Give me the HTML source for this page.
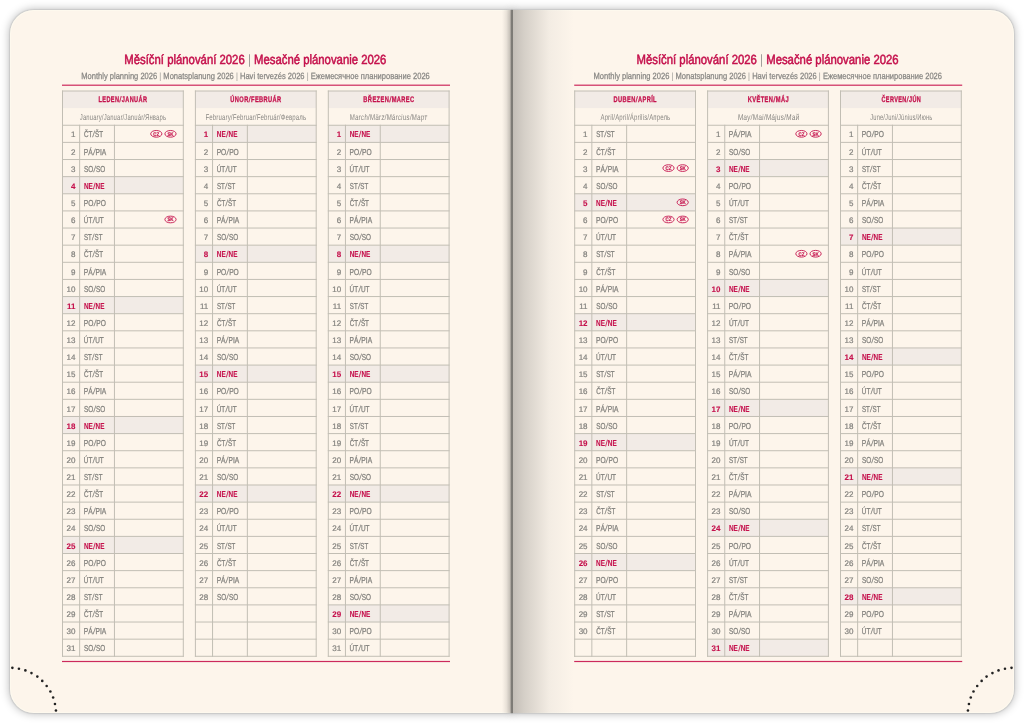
<!DOCTYPE html>
<html><head><meta charset="utf-8"><title>Měsíční plánování 2026</title>
<style>
html,body{margin:0;padding:0;}
body{width:1024px;height:723px;overflow:hidden;background:#ffffff;position:relative;font-family:"Liberation Sans",sans-serif;}
.pg{position:absolute;top:9.5px;height:703.5px;background:#fdf5eb;box-shadow:inset 0 0 1px 1px rgba(255,253,242,0.6),0 0 1px 0.5px rgba(0,0,0,0.08),0 0 8px 1px rgba(0,0,0,0.26);}
.pl{left:10px;width:502px;border-radius:24px 0 0 24px;}
.pr{left:512px;width:502px;border-radius:0 24px 24px 0;}
.gl{position:absolute;top:9.5px;height:703.5px;left:502px;width:9px;background:linear-gradient(to right,rgba(200,195,188,0),rgba(195,190,183,0.25) 50%,rgba(175,170,163,0.5) 85%,rgba(140,136,130,0.8));}
.gr{position:absolute;top:9.5px;height:703.5px;left:512px;width:62px;background:linear-gradient(to right,rgba(190,185,178,0.95),rgba(200,195,188,0.75) 20%,rgba(205,200,193,0.6) 35%,rgba(225,220,213,0.35) 60%,rgba(253,245,236,0));}
.gc{position:absolute;top:9.5px;height:703.5px;left:510.9px;width:1.9px;background:linear-gradient(to right,rgba(100,98,94,0.55),rgba(100,98,94,0.95) 50%,rgba(100,98,94,0.5));}
.ov{position:absolute;left:0;top:0;filter:blur(0.3px);}
text{font-family:"Liberation Sans",sans-serif;text-rendering:geometricPrecision;}
.tt{font-size:13.3px;fill:#c5124d;stroke:#c5124d;stroke-width:0.55px;}
.st{font-size:9px;fill:#878683;stroke:#878683;stroke-width:0.25px;}
.mh{font-size:8.0px;font-weight:bold;fill:#c5124d;stroke:#c5124d;stroke-width:0.3px;}
.ms{font-size:8.3px;fill:#888682;}
.dn{font-size:8px;fill:#84837f;stroke:#84837f;stroke-width:0.22px;text-anchor:end;}
.da{font-size:8.6px;fill:#84837f;stroke:#84837f;stroke-width:0.28px;}
.s{fill:#c5124d;stroke:#c5124d;stroke-width:0.1px;font-weight:bold;}
.bar{fill:#9a9894;stroke:none;}
.bd{font-size:5.2px;font-weight:bold;fill:#c5124d;stroke:#c5124d;stroke-width:0.2px;text-anchor:middle;}
</style></head>
<body>
<div class="pg pl"></div>
<div class="pg pr"></div>
<div class="gl"></div>
<div class="gr"></div>
<div class="gc"></div>
<svg class="ov" width="1024" height="723" viewBox="0 0 1024 723">
<text class="tt" transform="matrix(0.853 0 0 1 124.292 64)">Měsíční plánování 2026 <tspan class="bar">|</tspan> Mesačné plánovanie 2026</text>
<text class="st" transform="matrix(0.838 0 0 1 81.297 79.4)">Monthly planning 2026 <tspan class="bar">|</tspan> Monatsplanung 2026 <tspan class="bar">|</tspan> Havi tervezés 2026 <tspan class="bar">|</tspan> Ежемесячное планирование 2026</text>
<rect x="62" y="84.6" width="388" height="1.2" fill="#cc2a5c"/>
<rect x="62" y="660.9" width="388" height="1.2" fill="#cc2a5c"/>
<rect x="62.5" y="91" width="120.8" height="17.13" fill="#f2ebe6"/>
<rect x="62.5" y="176.65" width="120.8" height="17.13" fill="#f2ebe6"/>
<rect x="62.5" y="296.56" width="120.8" height="17.13" fill="#f2ebe6"/>
<rect x="62.5" y="416.47" width="120.8" height="17.13" fill="#f2ebe6"/>
<rect x="62.5" y="536.38" width="120.8" height="17.13" fill="#f2ebe6"/>
<path d="M62.5 91H183.3M62.5 125.26H183.3M62.5 142.39H183.3M62.5 159.52H183.3M62.5 176.65H183.3M62.5 193.78H183.3M62.5 210.91H183.3M62.5 228.04H183.3M62.5 245.17H183.3M62.5 262.3H183.3M62.5 279.43H183.3M62.5 296.56H183.3M62.5 313.69H183.3M62.5 330.82H183.3M62.5 347.95H183.3M62.5 365.08H183.3M62.5 382.21H183.3M62.5 399.34H183.3M62.5 416.47H183.3M62.5 433.6H183.3M62.5 450.73H183.3M62.5 467.86H183.3M62.5 484.99H183.3M62.5 502.12H183.3M62.5 519.25H183.3M62.5 536.38H183.3M62.5 553.51H183.3M62.5 570.64H183.3M62.5 587.77H183.3M62.5 604.9H183.3M62.5 622.03H183.3M62.5 639.16H183.3M62.5 656.29H183.3M62.5 91V656.29M183.3 91V656.29M79.65 125.26V656.29M114.45 125.26V656.29" stroke="#c2beb4" stroke-width="1" stroke-linecap="square" fill="none"/>
<text class="mh" letter-spacing="0.55" transform="matrix(0.698 0 0 1 98.537 102.015)">LEDEN<tspan dx="0.3" font-style="italic">/</tspan><tspan dx="0.3">JANUÁR</tspan></text>
<text class="ms" letter-spacing="0.3" transform="matrix(0.696 0 -0.03 1 79.813 119.545)">January/Januar/Január/Январь</text>
<text x="75.35" y="137.475" class="dn">1</text>
<text class="da" transform="matrix(0.73 0 0 1 83.986 137.475)">ČT<tspan dx="0.7" font-style="italic">/</tspan><tspan dx="0.7">ŠT</tspan></text>
<ellipse cx="170.5" cy="133.825" rx="5.6" ry="3.35" fill="none" stroke="#c5124d" stroke-width="0.9"/>
<text class="bd" transform="matrix(0.85 0 0 1 170.5 135.625)">SK</text>
<ellipse cx="156.3" cy="133.825" rx="5.6" ry="3.35" fill="none" stroke="#c5124d" stroke-width="0.9"/>
<text class="bd" transform="matrix(0.85 0 0 1 156.3 135.625)">CZ</text>
<text x="75.35" y="154.605" class="dn">2</text>
<text class="da" transform="matrix(0.773 0 0 1 83.768 154.605)">PÁ<tspan dx="0.7" font-style="italic">/</tspan><tspan dx="0.7">PIA</tspan></text>
<text x="75.35" y="171.735" class="dn">3</text>
<text class="da" transform="matrix(0.74 0 0 1 84.014 171.735)">SO<tspan dx="0.7" font-style="italic">/</tspan><tspan dx="0.7">SO</tspan></text>
<text x="75.35" y="188.865" class="dn s">4</text>
<text class="da s" transform="matrix(0.746 0 0 1 83.883 188.865)">NE<tspan dx="0.7" font-style="italic">/</tspan><tspan dx="0.7">NE</tspan></text>
<text x="75.35" y="205.995" class="dn">5</text>
<text class="da" transform="matrix(0.773 0 0 1 83.768 205.995)">PO<tspan dx="0.7" font-style="italic">/</tspan><tspan dx="0.7">PO</tspan></text>
<text x="75.35" y="223.125" class="dn">6</text>
<text class="da" transform="matrix(0.745 0 0 1 83.819 223.125)">ÚT<tspan dx="0.7" font-style="italic">/</tspan><tspan dx="0.7">UT</tspan></text>
<ellipse cx="170.5" cy="219.475" rx="5.6" ry="3.35" fill="none" stroke="#c5124d" stroke-width="0.9"/>
<text class="bd" transform="matrix(0.85 0 0 1 170.5 221.275)">SK</text>
<text x="75.35" y="240.255" class="dn">7</text>
<text class="da" transform="matrix(0.714 0 0 1 84.024 240.255)">ST<tspan dx="0.7" font-style="italic">/</tspan><tspan dx="0.7">ST</tspan></text>
<text x="75.35" y="257.385" class="dn">8</text>
<text class="da" transform="matrix(0.73 0 0 1 83.986 257.385)">ČT<tspan dx="0.7" font-style="italic">/</tspan><tspan dx="0.7">ŠT</tspan></text>
<text x="75.35" y="274.515" class="dn">9</text>
<text class="da" transform="matrix(0.773 0 0 1 83.768 274.515)">PÁ<tspan dx="0.7" font-style="italic">/</tspan><tspan dx="0.7">PIA</tspan></text>
<text x="75.35" y="291.645" class="dn">10</text>
<text class="da" transform="matrix(0.74 0 0 1 84.014 291.645)">SO<tspan dx="0.7" font-style="italic">/</tspan><tspan dx="0.7">SO</tspan></text>
<text x="75.35" y="308.775" class="dn s">11</text>
<text class="da s" transform="matrix(0.746 0 0 1 83.883 308.775)">NE<tspan dx="0.7" font-style="italic">/</tspan><tspan dx="0.7">NE</tspan></text>
<text x="75.35" y="325.905" class="dn">12</text>
<text class="da" transform="matrix(0.773 0 0 1 83.768 325.905)">PO<tspan dx="0.7" font-style="italic">/</tspan><tspan dx="0.7">PO</tspan></text>
<text x="75.35" y="343.035" class="dn">13</text>
<text class="da" transform="matrix(0.745 0 0 1 83.819 343.035)">ÚT<tspan dx="0.7" font-style="italic">/</tspan><tspan dx="0.7">UT</tspan></text>
<text x="75.35" y="360.165" class="dn">14</text>
<text class="da" transform="matrix(0.714 0 0 1 84.024 360.165)">ST<tspan dx="0.7" font-style="italic">/</tspan><tspan dx="0.7">ST</tspan></text>
<text x="75.35" y="377.295" class="dn">15</text>
<text class="da" transform="matrix(0.73 0 0 1 83.986 377.295)">ČT<tspan dx="0.7" font-style="italic">/</tspan><tspan dx="0.7">ŠT</tspan></text>
<text x="75.35" y="394.425" class="dn">16</text>
<text class="da" transform="matrix(0.773 0 0 1 83.768 394.425)">PÁ<tspan dx="0.7" font-style="italic">/</tspan><tspan dx="0.7">PIA</tspan></text>
<text x="75.35" y="411.555" class="dn">17</text>
<text class="da" transform="matrix(0.74 0 0 1 84.014 411.555)">SO<tspan dx="0.7" font-style="italic">/</tspan><tspan dx="0.7">SO</tspan></text>
<text x="75.35" y="428.685" class="dn s">18</text>
<text class="da s" transform="matrix(0.746 0 0 1 83.883 428.685)">NE<tspan dx="0.7" font-style="italic">/</tspan><tspan dx="0.7">NE</tspan></text>
<text x="75.35" y="445.815" class="dn">19</text>
<text class="da" transform="matrix(0.773 0 0 1 83.768 445.815)">PO<tspan dx="0.7" font-style="italic">/</tspan><tspan dx="0.7">PO</tspan></text>
<text x="75.35" y="462.945" class="dn">20</text>
<text class="da" transform="matrix(0.745 0 0 1 83.819 462.945)">ÚT<tspan dx="0.7" font-style="italic">/</tspan><tspan dx="0.7">UT</tspan></text>
<text x="75.35" y="480.075" class="dn">21</text>
<text class="da" transform="matrix(0.714 0 0 1 84.024 480.075)">ST<tspan dx="0.7" font-style="italic">/</tspan><tspan dx="0.7">ST</tspan></text>
<text x="75.35" y="497.205" class="dn">22</text>
<text class="da" transform="matrix(0.73 0 0 1 83.986 497.205)">ČT<tspan dx="0.7" font-style="italic">/</tspan><tspan dx="0.7">ŠT</tspan></text>
<text x="75.35" y="514.335" class="dn">23</text>
<text class="da" transform="matrix(0.773 0 0 1 83.768 514.335)">PÁ<tspan dx="0.7" font-style="italic">/</tspan><tspan dx="0.7">PIA</tspan></text>
<text x="75.35" y="531.465" class="dn">24</text>
<text class="da" transform="matrix(0.74 0 0 1 84.014 531.465)">SO<tspan dx="0.7" font-style="italic">/</tspan><tspan dx="0.7">SO</tspan></text>
<text x="75.35" y="548.595" class="dn s">25</text>
<text class="da s" transform="matrix(0.746 0 0 1 83.883 548.595)">NE<tspan dx="0.7" font-style="italic">/</tspan><tspan dx="0.7">NE</tspan></text>
<text x="75.35" y="565.725" class="dn">26</text>
<text class="da" transform="matrix(0.773 0 0 1 83.768 565.725)">PO<tspan dx="0.7" font-style="italic">/</tspan><tspan dx="0.7">PO</tspan></text>
<text x="75.35" y="582.855" class="dn">27</text>
<text class="da" transform="matrix(0.745 0 0 1 83.819 582.855)">ÚT<tspan dx="0.7" font-style="italic">/</tspan><tspan dx="0.7">UT</tspan></text>
<text x="75.35" y="599.985" class="dn">28</text>
<text class="da" transform="matrix(0.714 0 0 1 84.024 599.985)">ST<tspan dx="0.7" font-style="italic">/</tspan><tspan dx="0.7">ST</tspan></text>
<text x="75.35" y="617.115" class="dn">29</text>
<text class="da" transform="matrix(0.73 0 0 1 83.986 617.115)">ČT<tspan dx="0.7" font-style="italic">/</tspan><tspan dx="0.7">ŠT</tspan></text>
<text x="75.35" y="634.245" class="dn">30</text>
<text class="da" transform="matrix(0.773 0 0 1 83.768 634.245)">PÁ<tspan dx="0.7" font-style="italic">/</tspan><tspan dx="0.7">PIA</tspan></text>
<text x="75.35" y="651.375" class="dn">31</text>
<text class="da" transform="matrix(0.74 0 0 1 84.014 651.375)">SO<tspan dx="0.7" font-style="italic">/</tspan><tspan dx="0.7">SO</tspan></text>
<rect x="195.4" y="91" width="120.8" height="17.13" fill="#f2ebe6"/>
<rect x="195.4" y="125.26" width="120.8" height="17.13" fill="#f2ebe6"/>
<rect x="195.4" y="245.17" width="120.8" height="17.13" fill="#f2ebe6"/>
<rect x="195.4" y="365.08" width="120.8" height="17.13" fill="#f2ebe6"/>
<rect x="195.4" y="484.99" width="120.8" height="17.13" fill="#f2ebe6"/>
<path d="M195.4 91H316.2M195.4 125.26H316.2M195.4 142.39H316.2M195.4 159.52H316.2M195.4 176.65H316.2M195.4 193.78H316.2M195.4 210.91H316.2M195.4 228.04H316.2M195.4 245.17H316.2M195.4 262.3H316.2M195.4 279.43H316.2M195.4 296.56H316.2M195.4 313.69H316.2M195.4 330.82H316.2M195.4 347.95H316.2M195.4 365.08H316.2M195.4 382.21H316.2M195.4 399.34H316.2M195.4 416.47H316.2M195.4 433.6H316.2M195.4 450.73H316.2M195.4 467.86H316.2M195.4 484.99H316.2M195.4 502.12H316.2M195.4 519.25H316.2M195.4 536.38H316.2M195.4 553.51H316.2M195.4 570.64H316.2M195.4 587.77H316.2M195.4 604.9H316.2M195.4 622.03H316.2M195.4 639.16H316.2M195.4 656.29H316.2M195.4 91V656.29M316.2 91V656.29M212.55 125.26V656.29M247.35 125.26V656.29" stroke="#c2beb4" stroke-width="1" stroke-linecap="square" fill="none"/>
<text class="mh" letter-spacing="0.55" transform="matrix(0.709 0 0 1 230.36 102.015)">ÚNOR<tspan dx="0.3" font-style="italic">/</tspan><tspan dx="0.3">FEBRUÁR</tspan></text>
<text class="ms" letter-spacing="0.3" transform="matrix(0.711 0 -0.03 1 205.528 119.545)">February/Februar/Február/Февраль</text>
<text x="208.25" y="137.475" class="dn s">1</text>
<text class="da s" transform="matrix(0.746 0 0 1 216.783 137.475)">NE<tspan dx="0.7" font-style="italic">/</tspan><tspan dx="0.7">NE</tspan></text>
<text x="208.25" y="154.605" class="dn">2</text>
<text class="da" transform="matrix(0.773 0 0 1 216.668 154.605)">PO<tspan dx="0.7" font-style="italic">/</tspan><tspan dx="0.7">PO</tspan></text>
<text x="208.25" y="171.735" class="dn">3</text>
<text class="da" transform="matrix(0.745 0 0 1 216.719 171.735)">ÚT<tspan dx="0.7" font-style="italic">/</tspan><tspan dx="0.7">UT</tspan></text>
<text x="208.25" y="188.865" class="dn">4</text>
<text class="da" transform="matrix(0.714 0 0 1 216.924 188.865)">ST<tspan dx="0.7" font-style="italic">/</tspan><tspan dx="0.7">ST</tspan></text>
<text x="208.25" y="205.995" class="dn">5</text>
<text class="da" transform="matrix(0.73 0 0 1 216.886 205.995)">ČT<tspan dx="0.7" font-style="italic">/</tspan><tspan dx="0.7">ŠT</tspan></text>
<text x="208.25" y="223.125" class="dn">6</text>
<text class="da" transform="matrix(0.773 0 0 1 216.668 223.125)">PÁ<tspan dx="0.7" font-style="italic">/</tspan><tspan dx="0.7">PIA</tspan></text>
<text x="208.25" y="240.255" class="dn">7</text>
<text class="da" transform="matrix(0.74 0 0 1 216.914 240.255)">SO<tspan dx="0.7" font-style="italic">/</tspan><tspan dx="0.7">SO</tspan></text>
<text x="208.25" y="257.385" class="dn s">8</text>
<text class="da s" transform="matrix(0.746 0 0 1 216.783 257.385)">NE<tspan dx="0.7" font-style="italic">/</tspan><tspan dx="0.7">NE</tspan></text>
<text x="208.25" y="274.515" class="dn">9</text>
<text class="da" transform="matrix(0.773 0 0 1 216.668 274.515)">PO<tspan dx="0.7" font-style="italic">/</tspan><tspan dx="0.7">PO</tspan></text>
<text x="208.25" y="291.645" class="dn">10</text>
<text class="da" transform="matrix(0.745 0 0 1 216.719 291.645)">ÚT<tspan dx="0.7" font-style="italic">/</tspan><tspan dx="0.7">UT</tspan></text>
<text x="208.25" y="308.775" class="dn">11</text>
<text class="da" transform="matrix(0.714 0 0 1 216.924 308.775)">ST<tspan dx="0.7" font-style="italic">/</tspan><tspan dx="0.7">ST</tspan></text>
<text x="208.25" y="325.905" class="dn">12</text>
<text class="da" transform="matrix(0.73 0 0 1 216.886 325.905)">ČT<tspan dx="0.7" font-style="italic">/</tspan><tspan dx="0.7">ŠT</tspan></text>
<text x="208.25" y="343.035" class="dn">13</text>
<text class="da" transform="matrix(0.773 0 0 1 216.668 343.035)">PÁ<tspan dx="0.7" font-style="italic">/</tspan><tspan dx="0.7">PIA</tspan></text>
<text x="208.25" y="360.165" class="dn">14</text>
<text class="da" transform="matrix(0.74 0 0 1 216.914 360.165)">SO<tspan dx="0.7" font-style="italic">/</tspan><tspan dx="0.7">SO</tspan></text>
<text x="208.25" y="377.295" class="dn s">15</text>
<text class="da s" transform="matrix(0.746 0 0 1 216.783 377.295)">NE<tspan dx="0.7" font-style="italic">/</tspan><tspan dx="0.7">NE</tspan></text>
<text x="208.25" y="394.425" class="dn">16</text>
<text class="da" transform="matrix(0.773 0 0 1 216.668 394.425)">PO<tspan dx="0.7" font-style="italic">/</tspan><tspan dx="0.7">PO</tspan></text>
<text x="208.25" y="411.555" class="dn">17</text>
<text class="da" transform="matrix(0.745 0 0 1 216.719 411.555)">ÚT<tspan dx="0.7" font-style="italic">/</tspan><tspan dx="0.7">UT</tspan></text>
<text x="208.25" y="428.685" class="dn">18</text>
<text class="da" transform="matrix(0.714 0 0 1 216.924 428.685)">ST<tspan dx="0.7" font-style="italic">/</tspan><tspan dx="0.7">ST</tspan></text>
<text x="208.25" y="445.815" class="dn">19</text>
<text class="da" transform="matrix(0.73 0 0 1 216.886 445.815)">ČT<tspan dx="0.7" font-style="italic">/</tspan><tspan dx="0.7">ŠT</tspan></text>
<text x="208.25" y="462.945" class="dn">20</text>
<text class="da" transform="matrix(0.773 0 0 1 216.668 462.945)">PÁ<tspan dx="0.7" font-style="italic">/</tspan><tspan dx="0.7">PIA</tspan></text>
<text x="208.25" y="480.075" class="dn">21</text>
<text class="da" transform="matrix(0.74 0 0 1 216.914 480.075)">SO<tspan dx="0.7" font-style="italic">/</tspan><tspan dx="0.7">SO</tspan></text>
<text x="208.25" y="497.205" class="dn s">22</text>
<text class="da s" transform="matrix(0.746 0 0 1 216.783 497.205)">NE<tspan dx="0.7" font-style="italic">/</tspan><tspan dx="0.7">NE</tspan></text>
<text x="208.25" y="514.335" class="dn">23</text>
<text class="da" transform="matrix(0.773 0 0 1 216.668 514.335)">PO<tspan dx="0.7" font-style="italic">/</tspan><tspan dx="0.7">PO</tspan></text>
<text x="208.25" y="531.465" class="dn">24</text>
<text class="da" transform="matrix(0.745 0 0 1 216.719 531.465)">ÚT<tspan dx="0.7" font-style="italic">/</tspan><tspan dx="0.7">UT</tspan></text>
<text x="208.25" y="548.595" class="dn">25</text>
<text class="da" transform="matrix(0.714 0 0 1 216.924 548.595)">ST<tspan dx="0.7" font-style="italic">/</tspan><tspan dx="0.7">ST</tspan></text>
<text x="208.25" y="565.725" class="dn">26</text>
<text class="da" transform="matrix(0.73 0 0 1 216.886 565.725)">ČT<tspan dx="0.7" font-style="italic">/</tspan><tspan dx="0.7">ŠT</tspan></text>
<text x="208.25" y="582.855" class="dn">27</text>
<text class="da" transform="matrix(0.773 0 0 1 216.668 582.855)">PÁ<tspan dx="0.7" font-style="italic">/</tspan><tspan dx="0.7">PIA</tspan></text>
<text x="208.25" y="599.985" class="dn">28</text>
<text class="da" transform="matrix(0.74 0 0 1 216.914 599.985)">SO<tspan dx="0.7" font-style="italic">/</tspan><tspan dx="0.7">SO</tspan></text>
<rect x="328.3" y="91" width="120.8" height="17.13" fill="#f2ebe6"/>
<rect x="328.3" y="125.26" width="120.8" height="17.13" fill="#f2ebe6"/>
<rect x="328.3" y="245.17" width="120.8" height="17.13" fill="#f2ebe6"/>
<rect x="328.3" y="365.08" width="120.8" height="17.13" fill="#f2ebe6"/>
<rect x="328.3" y="484.99" width="120.8" height="17.13" fill="#f2ebe6"/>
<rect x="328.3" y="604.9" width="120.8" height="17.13" fill="#f2ebe6"/>
<path d="M328.3 91H449.1M328.3 125.26H449.1M328.3 142.39H449.1M328.3 159.52H449.1M328.3 176.65H449.1M328.3 193.78H449.1M328.3 210.91H449.1M328.3 228.04H449.1M328.3 245.17H449.1M328.3 262.3H449.1M328.3 279.43H449.1M328.3 296.56H449.1M328.3 313.69H449.1M328.3 330.82H449.1M328.3 347.95H449.1M328.3 365.08H449.1M328.3 382.21H449.1M328.3 399.34H449.1M328.3 416.47H449.1M328.3 433.6H449.1M328.3 450.73H449.1M328.3 467.86H449.1M328.3 484.99H449.1M328.3 502.12H449.1M328.3 519.25H449.1M328.3 536.38H449.1M328.3 553.51H449.1M328.3 570.64H449.1M328.3 587.77H449.1M328.3 604.9H449.1M328.3 622.03H449.1M328.3 639.16H449.1M328.3 656.29H449.1M328.3 91V656.29M449.1 91V656.29M345.45 125.26V656.29M380.25 125.26V656.29" stroke="#c2beb4" stroke-width="1" stroke-linecap="square" fill="none"/>
<text class="mh" letter-spacing="0.55" transform="matrix(0.715 0 0 1 363.328 102.015)">BŘEZEN<tspan dx="0.3" font-style="italic">/</tspan><tspan dx="0.3">MAREC</tspan></text>
<text class="ms" letter-spacing="0.3" transform="matrix(0.747 0 -0.06 1 349.504 119.545)">March/März/Március/Март</text>
<text x="341.15" y="137.475" class="dn s">1</text>
<text class="da s" transform="matrix(0.746 0 0 1 349.683 137.475)">NE<tspan dx="0.7" font-style="italic">/</tspan><tspan dx="0.7">NE</tspan></text>
<text x="341.15" y="154.605" class="dn">2</text>
<text class="da" transform="matrix(0.773 0 0 1 349.568 154.605)">PO<tspan dx="0.7" font-style="italic">/</tspan><tspan dx="0.7">PO</tspan></text>
<text x="341.15" y="171.735" class="dn">3</text>
<text class="da" transform="matrix(0.745 0 0 1 349.619 171.735)">ÚT<tspan dx="0.7" font-style="italic">/</tspan><tspan dx="0.7">UT</tspan></text>
<text x="341.15" y="188.865" class="dn">4</text>
<text class="da" transform="matrix(0.714 0 0 1 349.824 188.865)">ST<tspan dx="0.7" font-style="italic">/</tspan><tspan dx="0.7">ST</tspan></text>
<text x="341.15" y="205.995" class="dn">5</text>
<text class="da" transform="matrix(0.73 0 0 1 349.786 205.995)">ČT<tspan dx="0.7" font-style="italic">/</tspan><tspan dx="0.7">ŠT</tspan></text>
<text x="341.15" y="223.125" class="dn">6</text>
<text class="da" transform="matrix(0.773 0 0 1 349.568 223.125)">PÁ<tspan dx="0.7" font-style="italic">/</tspan><tspan dx="0.7">PIA</tspan></text>
<text x="341.15" y="240.255" class="dn">7</text>
<text class="da" transform="matrix(0.74 0 0 1 349.814 240.255)">SO<tspan dx="0.7" font-style="italic">/</tspan><tspan dx="0.7">SO</tspan></text>
<text x="341.15" y="257.385" class="dn s">8</text>
<text class="da s" transform="matrix(0.746 0 0 1 349.683 257.385)">NE<tspan dx="0.7" font-style="italic">/</tspan><tspan dx="0.7">NE</tspan></text>
<text x="341.15" y="274.515" class="dn">9</text>
<text class="da" transform="matrix(0.773 0 0 1 349.568 274.515)">PO<tspan dx="0.7" font-style="italic">/</tspan><tspan dx="0.7">PO</tspan></text>
<text x="341.15" y="291.645" class="dn">10</text>
<text class="da" transform="matrix(0.745 0 0 1 349.619 291.645)">ÚT<tspan dx="0.7" font-style="italic">/</tspan><tspan dx="0.7">UT</tspan></text>
<text x="341.15" y="308.775" class="dn">11</text>
<text class="da" transform="matrix(0.714 0 0 1 349.824 308.775)">ST<tspan dx="0.7" font-style="italic">/</tspan><tspan dx="0.7">ST</tspan></text>
<text x="341.15" y="325.905" class="dn">12</text>
<text class="da" transform="matrix(0.73 0 0 1 349.786 325.905)">ČT<tspan dx="0.7" font-style="italic">/</tspan><tspan dx="0.7">ŠT</tspan></text>
<text x="341.15" y="343.035" class="dn">13</text>
<text class="da" transform="matrix(0.773 0 0 1 349.568 343.035)">PÁ<tspan dx="0.7" font-style="italic">/</tspan><tspan dx="0.7">PIA</tspan></text>
<text x="341.15" y="360.165" class="dn">14</text>
<text class="da" transform="matrix(0.74 0 0 1 349.814 360.165)">SO<tspan dx="0.7" font-style="italic">/</tspan><tspan dx="0.7">SO</tspan></text>
<text x="341.15" y="377.295" class="dn s">15</text>
<text class="da s" transform="matrix(0.746 0 0 1 349.683 377.295)">NE<tspan dx="0.7" font-style="italic">/</tspan><tspan dx="0.7">NE</tspan></text>
<text x="341.15" y="394.425" class="dn">16</text>
<text class="da" transform="matrix(0.773 0 0 1 349.568 394.425)">PO<tspan dx="0.7" font-style="italic">/</tspan><tspan dx="0.7">PO</tspan></text>
<text x="341.15" y="411.555" class="dn">17</text>
<text class="da" transform="matrix(0.745 0 0 1 349.619 411.555)">ÚT<tspan dx="0.7" font-style="italic">/</tspan><tspan dx="0.7">UT</tspan></text>
<text x="341.15" y="428.685" class="dn">18</text>
<text class="da" transform="matrix(0.714 0 0 1 349.824 428.685)">ST<tspan dx="0.7" font-style="italic">/</tspan><tspan dx="0.7">ST</tspan></text>
<text x="341.15" y="445.815" class="dn">19</text>
<text class="da" transform="matrix(0.73 0 0 1 349.786 445.815)">ČT<tspan dx="0.7" font-style="italic">/</tspan><tspan dx="0.7">ŠT</tspan></text>
<text x="341.15" y="462.945" class="dn">20</text>
<text class="da" transform="matrix(0.773 0 0 1 349.568 462.945)">PÁ<tspan dx="0.7" font-style="italic">/</tspan><tspan dx="0.7">PIA</tspan></text>
<text x="341.15" y="480.075" class="dn">21</text>
<text class="da" transform="matrix(0.74 0 0 1 349.814 480.075)">SO<tspan dx="0.7" font-style="italic">/</tspan><tspan dx="0.7">SO</tspan></text>
<text x="341.15" y="497.205" class="dn s">22</text>
<text class="da s" transform="matrix(0.746 0 0 1 349.683 497.205)">NE<tspan dx="0.7" font-style="italic">/</tspan><tspan dx="0.7">NE</tspan></text>
<text x="341.15" y="514.335" class="dn">23</text>
<text class="da" transform="matrix(0.773 0 0 1 349.568 514.335)">PO<tspan dx="0.7" font-style="italic">/</tspan><tspan dx="0.7">PO</tspan></text>
<text x="341.15" y="531.465" class="dn">24</text>
<text class="da" transform="matrix(0.745 0 0 1 349.619 531.465)">ÚT<tspan dx="0.7" font-style="italic">/</tspan><tspan dx="0.7">UT</tspan></text>
<text x="341.15" y="548.595" class="dn">25</text>
<text class="da" transform="matrix(0.714 0 0 1 349.824 548.595)">ST<tspan dx="0.7" font-style="italic">/</tspan><tspan dx="0.7">ST</tspan></text>
<text x="341.15" y="565.725" class="dn">26</text>
<text class="da" transform="matrix(0.73 0 0 1 349.786 565.725)">ČT<tspan dx="0.7" font-style="italic">/</tspan><tspan dx="0.7">ŠT</tspan></text>
<text x="341.15" y="582.855" class="dn">27</text>
<text class="da" transform="matrix(0.773 0 0 1 349.568 582.855)">PÁ<tspan dx="0.7" font-style="italic">/</tspan><tspan dx="0.7">PIA</tspan></text>
<text x="341.15" y="599.985" class="dn">28</text>
<text class="da" transform="matrix(0.74 0 0 1 349.814 599.985)">SO<tspan dx="0.7" font-style="italic">/</tspan><tspan dx="0.7">SO</tspan></text>
<text x="341.15" y="617.115" class="dn s">29</text>
<text class="da s" transform="matrix(0.746 0 0 1 349.683 617.115)">NE<tspan dx="0.7" font-style="italic">/</tspan><tspan dx="0.7">NE</tspan></text>
<text x="341.15" y="634.245" class="dn">30</text>
<text class="da" transform="matrix(0.773 0 0 1 349.568 634.245)">PO<tspan dx="0.7" font-style="italic">/</tspan><tspan dx="0.7">PO</tspan></text>
<text x="341.15" y="651.375" class="dn">31</text>
<text class="da" transform="matrix(0.745 0 0 1 349.619 651.375)">ÚT<tspan dx="0.7" font-style="italic">/</tspan><tspan dx="0.7">UT</tspan></text>
<text class="tt" transform="matrix(0.853 0 0 1 636.492 64)">Měsíční plánování 2026 <tspan class="bar">|</tspan> Mesačné plánovanie 2026</text>
<text class="st" transform="matrix(0.838 0 0 1 593.497 79.4)">Monthly planning 2026 <tspan class="bar">|</tspan> Monatsplanung 2026 <tspan class="bar">|</tspan> Havi tervezés 2026 <tspan class="bar">|</tspan> Ежемесячное планирование 2026</text>
<rect x="574.2" y="84.6" width="388" height="1.2" fill="#cc2a5c"/>
<rect x="574.2" y="660.9" width="388" height="1.2" fill="#cc2a5c"/>
<rect x="574.7" y="91" width="120.8" height="17.13" fill="#f2ebe6"/>
<rect x="574.7" y="193.78" width="120.8" height="17.13" fill="#f2ebe6"/>
<rect x="574.7" y="313.69" width="120.8" height="17.13" fill="#f2ebe6"/>
<rect x="574.7" y="433.6" width="120.8" height="17.13" fill="#f2ebe6"/>
<rect x="574.7" y="553.51" width="120.8" height="17.13" fill="#f2ebe6"/>
<path d="M574.7 91H695.5M574.7 125.26H695.5M574.7 142.39H695.5M574.7 159.52H695.5M574.7 176.65H695.5M574.7 193.78H695.5M574.7 210.91H695.5M574.7 228.04H695.5M574.7 245.17H695.5M574.7 262.3H695.5M574.7 279.43H695.5M574.7 296.56H695.5M574.7 313.69H695.5M574.7 330.82H695.5M574.7 347.95H695.5M574.7 365.08H695.5M574.7 382.21H695.5M574.7 399.34H695.5M574.7 416.47H695.5M574.7 433.6H695.5M574.7 450.73H695.5M574.7 467.86H695.5M574.7 484.99H695.5M574.7 502.12H695.5M574.7 519.25H695.5M574.7 536.38H695.5M574.7 553.51H695.5M574.7 570.64H695.5M574.7 587.77H695.5M574.7 604.9H695.5M574.7 622.03H695.5M574.7 639.16H695.5M574.7 656.29H695.5M574.7 91V656.29M695.5 91V656.29M591.85 125.26V656.29M626.65 125.26V656.29" stroke="#c2beb4" stroke-width="1" stroke-linecap="square" fill="none"/>
<text class="mh" letter-spacing="0.55" transform="matrix(0.708 0 0 1 613.532 102.015)">DUBEN<tspan dx="0.3" font-style="italic">/</tspan><tspan dx="0.3">APRÍL</tspan></text>
<text class="ms" letter-spacing="0.3" transform="matrix(0.708 0 -0.03 1 600.5 119.545)">April/April/Április/Апрель</text>
<text x="587.55" y="137.475" class="dn">1</text>
<text class="da" transform="matrix(0.714 0 0 1 596.224 137.475)">ST<tspan dx="0.7" font-style="italic">/</tspan><tspan dx="0.7">ST</tspan></text>
<text x="587.55" y="154.605" class="dn">2</text>
<text class="da" transform="matrix(0.73 0 0 1 596.186 154.605)">ČT<tspan dx="0.7" font-style="italic">/</tspan><tspan dx="0.7">ŠT</tspan></text>
<text x="587.55" y="171.735" class="dn">3</text>
<text class="da" transform="matrix(0.773 0 0 1 595.968 171.735)">PÁ<tspan dx="0.7" font-style="italic">/</tspan><tspan dx="0.7">PIA</tspan></text>
<ellipse cx="682.7" cy="168.085" rx="5.6" ry="3.35" fill="none" stroke="#c5124d" stroke-width="0.9"/>
<text class="bd" transform="matrix(0.85 0 0 1 682.7 169.885)">SK</text>
<ellipse cx="668.5" cy="168.085" rx="5.6" ry="3.35" fill="none" stroke="#c5124d" stroke-width="0.9"/>
<text class="bd" transform="matrix(0.85 0 0 1 668.5 169.885)">CZ</text>
<text x="587.55" y="188.865" class="dn">4</text>
<text class="da" transform="matrix(0.74 0 0 1 596.214 188.865)">SO<tspan dx="0.7" font-style="italic">/</tspan><tspan dx="0.7">SO</tspan></text>
<text x="587.55" y="205.995" class="dn s">5</text>
<text class="da s" transform="matrix(0.746 0 0 1 596.083 205.995)">NE<tspan dx="0.7" font-style="italic">/</tspan><tspan dx="0.7">NE</tspan></text>
<ellipse cx="682.7" cy="202.345" rx="5.6" ry="3.35" fill="none" stroke="#c5124d" stroke-width="0.9"/>
<text class="bd" transform="matrix(0.85 0 0 1 682.7 204.145)">SK</text>
<text x="587.55" y="223.125" class="dn">6</text>
<text class="da" transform="matrix(0.773 0 0 1 595.968 223.125)">PO<tspan dx="0.7" font-style="italic">/</tspan><tspan dx="0.7">PO</tspan></text>
<ellipse cx="682.7" cy="219.475" rx="5.6" ry="3.35" fill="none" stroke="#c5124d" stroke-width="0.9"/>
<text class="bd" transform="matrix(0.85 0 0 1 682.7 221.275)">SK</text>
<ellipse cx="668.5" cy="219.475" rx="5.6" ry="3.35" fill="none" stroke="#c5124d" stroke-width="0.9"/>
<text class="bd" transform="matrix(0.85 0 0 1 668.5 221.275)">CZ</text>
<text x="587.55" y="240.255" class="dn">7</text>
<text class="da" transform="matrix(0.745 0 0 1 596.019 240.255)">ÚT<tspan dx="0.7" font-style="italic">/</tspan><tspan dx="0.7">UT</tspan></text>
<text x="587.55" y="257.385" class="dn">8</text>
<text class="da" transform="matrix(0.714 0 0 1 596.224 257.385)">ST<tspan dx="0.7" font-style="italic">/</tspan><tspan dx="0.7">ST</tspan></text>
<text x="587.55" y="274.515" class="dn">9</text>
<text class="da" transform="matrix(0.73 0 0 1 596.186 274.515)">ČT<tspan dx="0.7" font-style="italic">/</tspan><tspan dx="0.7">ŠT</tspan></text>
<text x="587.55" y="291.645" class="dn">10</text>
<text class="da" transform="matrix(0.773 0 0 1 595.968 291.645)">PÁ<tspan dx="0.7" font-style="italic">/</tspan><tspan dx="0.7">PIA</tspan></text>
<text x="587.55" y="308.775" class="dn">11</text>
<text class="da" transform="matrix(0.74 0 0 1 596.214 308.775)">SO<tspan dx="0.7" font-style="italic">/</tspan><tspan dx="0.7">SO</tspan></text>
<text x="587.55" y="325.905" class="dn s">12</text>
<text class="da s" transform="matrix(0.746 0 0 1 596.083 325.905)">NE<tspan dx="0.7" font-style="italic">/</tspan><tspan dx="0.7">NE</tspan></text>
<text x="587.55" y="343.035" class="dn">13</text>
<text class="da" transform="matrix(0.773 0 0 1 595.968 343.035)">PO<tspan dx="0.7" font-style="italic">/</tspan><tspan dx="0.7">PO</tspan></text>
<text x="587.55" y="360.165" class="dn">14</text>
<text class="da" transform="matrix(0.745 0 0 1 596.019 360.165)">ÚT<tspan dx="0.7" font-style="italic">/</tspan><tspan dx="0.7">UT</tspan></text>
<text x="587.55" y="377.295" class="dn">15</text>
<text class="da" transform="matrix(0.714 0 0 1 596.224 377.295)">ST<tspan dx="0.7" font-style="italic">/</tspan><tspan dx="0.7">ST</tspan></text>
<text x="587.55" y="394.425" class="dn">16</text>
<text class="da" transform="matrix(0.73 0 0 1 596.186 394.425)">ČT<tspan dx="0.7" font-style="italic">/</tspan><tspan dx="0.7">ŠT</tspan></text>
<text x="587.55" y="411.555" class="dn">17</text>
<text class="da" transform="matrix(0.773 0 0 1 595.968 411.555)">PÁ<tspan dx="0.7" font-style="italic">/</tspan><tspan dx="0.7">PIA</tspan></text>
<text x="587.55" y="428.685" class="dn">18</text>
<text class="da" transform="matrix(0.74 0 0 1 596.214 428.685)">SO<tspan dx="0.7" font-style="italic">/</tspan><tspan dx="0.7">SO</tspan></text>
<text x="587.55" y="445.815" class="dn s">19</text>
<text class="da s" transform="matrix(0.746 0 0 1 596.083 445.815)">NE<tspan dx="0.7" font-style="italic">/</tspan><tspan dx="0.7">NE</tspan></text>
<text x="587.55" y="462.945" class="dn">20</text>
<text class="da" transform="matrix(0.773 0 0 1 595.968 462.945)">PO<tspan dx="0.7" font-style="italic">/</tspan><tspan dx="0.7">PO</tspan></text>
<text x="587.55" y="480.075" class="dn">21</text>
<text class="da" transform="matrix(0.745 0 0 1 596.019 480.075)">ÚT<tspan dx="0.7" font-style="italic">/</tspan><tspan dx="0.7">UT</tspan></text>
<text x="587.55" y="497.205" class="dn">22</text>
<text class="da" transform="matrix(0.714 0 0 1 596.224 497.205)">ST<tspan dx="0.7" font-style="italic">/</tspan><tspan dx="0.7">ST</tspan></text>
<text x="587.55" y="514.335" class="dn">23</text>
<text class="da" transform="matrix(0.73 0 0 1 596.186 514.335)">ČT<tspan dx="0.7" font-style="italic">/</tspan><tspan dx="0.7">ŠT</tspan></text>
<text x="587.55" y="531.465" class="dn">24</text>
<text class="da" transform="matrix(0.773 0 0 1 595.968 531.465)">PÁ<tspan dx="0.7" font-style="italic">/</tspan><tspan dx="0.7">PIA</tspan></text>
<text x="587.55" y="548.595" class="dn">25</text>
<text class="da" transform="matrix(0.74 0 0 1 596.214 548.595)">SO<tspan dx="0.7" font-style="italic">/</tspan><tspan dx="0.7">SO</tspan></text>
<text x="587.55" y="565.725" class="dn s">26</text>
<text class="da s" transform="matrix(0.746 0 0 1 596.083 565.725)">NE<tspan dx="0.7" font-style="italic">/</tspan><tspan dx="0.7">NE</tspan></text>
<text x="587.55" y="582.855" class="dn">27</text>
<text class="da" transform="matrix(0.773 0 0 1 595.968 582.855)">PO<tspan dx="0.7" font-style="italic">/</tspan><tspan dx="0.7">PO</tspan></text>
<text x="587.55" y="599.985" class="dn">28</text>
<text class="da" transform="matrix(0.745 0 0 1 596.019 599.985)">ÚT<tspan dx="0.7" font-style="italic">/</tspan><tspan dx="0.7">UT</tspan></text>
<text x="587.55" y="617.115" class="dn">29</text>
<text class="da" transform="matrix(0.714 0 0 1 596.224 617.115)">ST<tspan dx="0.7" font-style="italic">/</tspan><tspan dx="0.7">ST</tspan></text>
<text x="587.55" y="634.245" class="dn">30</text>
<text class="da" transform="matrix(0.73 0 0 1 596.186 634.245)">ČT<tspan dx="0.7" font-style="italic">/</tspan><tspan dx="0.7">ŠT</tspan></text>
<rect x="707.6" y="91" width="120.8" height="17.13" fill="#f2ebe6"/>
<rect x="707.6" y="159.52" width="120.8" height="17.13" fill="#f2ebe6"/>
<rect x="707.6" y="279.43" width="120.8" height="17.13" fill="#f2ebe6"/>
<rect x="707.6" y="399.34" width="120.8" height="17.13" fill="#f2ebe6"/>
<rect x="707.6" y="519.25" width="120.8" height="17.13" fill="#f2ebe6"/>
<rect x="707.6" y="639.16" width="120.8" height="17.13" fill="#f2ebe6"/>
<path d="M707.6 91H828.4M707.6 125.26H828.4M707.6 142.39H828.4M707.6 159.52H828.4M707.6 176.65H828.4M707.6 193.78H828.4M707.6 210.91H828.4M707.6 228.04H828.4M707.6 245.17H828.4M707.6 262.3H828.4M707.6 279.43H828.4M707.6 296.56H828.4M707.6 313.69H828.4M707.6 330.82H828.4M707.6 347.95H828.4M707.6 365.08H828.4M707.6 382.21H828.4M707.6 399.34H828.4M707.6 416.47H828.4M707.6 433.6H828.4M707.6 450.73H828.4M707.6 467.86H828.4M707.6 484.99H828.4M707.6 502.12H828.4M707.6 519.25H828.4M707.6 536.38H828.4M707.6 553.51H828.4M707.6 570.64H828.4M707.6 587.77H828.4M707.6 604.9H828.4M707.6 622.03H828.4M707.6 639.16H828.4M707.6 656.29H828.4M707.6 91V656.29M828.4 91V656.29M724.75 125.26V656.29M759.55 125.26V656.29" stroke="#c2beb4" stroke-width="1" stroke-linecap="square" fill="none"/>
<text class="mh" letter-spacing="0.55" transform="matrix(0.717 0 0 1 747.727 102.015)">KVĚTEN<tspan dx="0.3" font-style="italic">/</tspan><tspan dx="0.3">MÁJ</tspan></text>
<text class="ms" letter-spacing="0.3" transform="matrix(0.776 0 -0.06 1 737.685 119.545)">May/Mai/Május/Май</text>
<text x="720.45" y="137.475" class="dn">1</text>
<text class="da" transform="matrix(0.773 0 0 1 728.868 137.475)">PÁ<tspan dx="0.7" font-style="italic">/</tspan><tspan dx="0.7">PIA</tspan></text>
<ellipse cx="815.6" cy="133.825" rx="5.6" ry="3.35" fill="none" stroke="#c5124d" stroke-width="0.9"/>
<text class="bd" transform="matrix(0.85 0 0 1 815.6 135.625)">SK</text>
<ellipse cx="801.4" cy="133.825" rx="5.6" ry="3.35" fill="none" stroke="#c5124d" stroke-width="0.9"/>
<text class="bd" transform="matrix(0.85 0 0 1 801.4 135.625)">CZ</text>
<text x="720.45" y="154.605" class="dn">2</text>
<text class="da" transform="matrix(0.74 0 0 1 729.114 154.605)">SO<tspan dx="0.7" font-style="italic">/</tspan><tspan dx="0.7">SO</tspan></text>
<text x="720.45" y="171.735" class="dn s">3</text>
<text class="da s" transform="matrix(0.746 0 0 1 728.983 171.735)">NE<tspan dx="0.7" font-style="italic">/</tspan><tspan dx="0.7">NE</tspan></text>
<text x="720.45" y="188.865" class="dn">4</text>
<text class="da" transform="matrix(0.773 0 0 1 728.868 188.865)">PO<tspan dx="0.7" font-style="italic">/</tspan><tspan dx="0.7">PO</tspan></text>
<text x="720.45" y="205.995" class="dn">5</text>
<text class="da" transform="matrix(0.745 0 0 1 728.919 205.995)">ÚT<tspan dx="0.7" font-style="italic">/</tspan><tspan dx="0.7">UT</tspan></text>
<text x="720.45" y="223.125" class="dn">6</text>
<text class="da" transform="matrix(0.714 0 0 1 729.124 223.125)">ST<tspan dx="0.7" font-style="italic">/</tspan><tspan dx="0.7">ST</tspan></text>
<text x="720.45" y="240.255" class="dn">7</text>
<text class="da" transform="matrix(0.73 0 0 1 729.086 240.255)">ČT<tspan dx="0.7" font-style="italic">/</tspan><tspan dx="0.7">ŠT</tspan></text>
<text x="720.45" y="257.385" class="dn">8</text>
<text class="da" transform="matrix(0.773 0 0 1 728.868 257.385)">PÁ<tspan dx="0.7" font-style="italic">/</tspan><tspan dx="0.7">PIA</tspan></text>
<ellipse cx="815.6" cy="253.735" rx="5.6" ry="3.35" fill="none" stroke="#c5124d" stroke-width="0.9"/>
<text class="bd" transform="matrix(0.85 0 0 1 815.6 255.535)">SK</text>
<ellipse cx="801.4" cy="253.735" rx="5.6" ry="3.35" fill="none" stroke="#c5124d" stroke-width="0.9"/>
<text class="bd" transform="matrix(0.85 0 0 1 801.4 255.535)">CZ</text>
<text x="720.45" y="274.515" class="dn">9</text>
<text class="da" transform="matrix(0.74 0 0 1 729.114 274.515)">SO<tspan dx="0.7" font-style="italic">/</tspan><tspan dx="0.7">SO</tspan></text>
<text x="720.45" y="291.645" class="dn s">10</text>
<text class="da s" transform="matrix(0.746 0 0 1 728.983 291.645)">NE<tspan dx="0.7" font-style="italic">/</tspan><tspan dx="0.7">NE</tspan></text>
<text x="720.45" y="308.775" class="dn">11</text>
<text class="da" transform="matrix(0.773 0 0 1 728.868 308.775)">PO<tspan dx="0.7" font-style="italic">/</tspan><tspan dx="0.7">PO</tspan></text>
<text x="720.45" y="325.905" class="dn">12</text>
<text class="da" transform="matrix(0.745 0 0 1 728.919 325.905)">ÚT<tspan dx="0.7" font-style="italic">/</tspan><tspan dx="0.7">UT</tspan></text>
<text x="720.45" y="343.035" class="dn">13</text>
<text class="da" transform="matrix(0.714 0 0 1 729.124 343.035)">ST<tspan dx="0.7" font-style="italic">/</tspan><tspan dx="0.7">ST</tspan></text>
<text x="720.45" y="360.165" class="dn">14</text>
<text class="da" transform="matrix(0.73 0 0 1 729.086 360.165)">ČT<tspan dx="0.7" font-style="italic">/</tspan><tspan dx="0.7">ŠT</tspan></text>
<text x="720.45" y="377.295" class="dn">15</text>
<text class="da" transform="matrix(0.773 0 0 1 728.868 377.295)">PÁ<tspan dx="0.7" font-style="italic">/</tspan><tspan dx="0.7">PIA</tspan></text>
<text x="720.45" y="394.425" class="dn">16</text>
<text class="da" transform="matrix(0.74 0 0 1 729.114 394.425)">SO<tspan dx="0.7" font-style="italic">/</tspan><tspan dx="0.7">SO</tspan></text>
<text x="720.45" y="411.555" class="dn s">17</text>
<text class="da s" transform="matrix(0.746 0 0 1 728.983 411.555)">NE<tspan dx="0.7" font-style="italic">/</tspan><tspan dx="0.7">NE</tspan></text>
<text x="720.45" y="428.685" class="dn">18</text>
<text class="da" transform="matrix(0.773 0 0 1 728.868 428.685)">PO<tspan dx="0.7" font-style="italic">/</tspan><tspan dx="0.7">PO</tspan></text>
<text x="720.45" y="445.815" class="dn">19</text>
<text class="da" transform="matrix(0.745 0 0 1 728.919 445.815)">ÚT<tspan dx="0.7" font-style="italic">/</tspan><tspan dx="0.7">UT</tspan></text>
<text x="720.45" y="462.945" class="dn">20</text>
<text class="da" transform="matrix(0.714 0 0 1 729.124 462.945)">ST<tspan dx="0.7" font-style="italic">/</tspan><tspan dx="0.7">ST</tspan></text>
<text x="720.45" y="480.075" class="dn">21</text>
<text class="da" transform="matrix(0.73 0 0 1 729.086 480.075)">ČT<tspan dx="0.7" font-style="italic">/</tspan><tspan dx="0.7">ŠT</tspan></text>
<text x="720.45" y="497.205" class="dn">22</text>
<text class="da" transform="matrix(0.773 0 0 1 728.868 497.205)">PÁ<tspan dx="0.7" font-style="italic">/</tspan><tspan dx="0.7">PIA</tspan></text>
<text x="720.45" y="514.335" class="dn">23</text>
<text class="da" transform="matrix(0.74 0 0 1 729.114 514.335)">SO<tspan dx="0.7" font-style="italic">/</tspan><tspan dx="0.7">SO</tspan></text>
<text x="720.45" y="531.465" class="dn s">24</text>
<text class="da s" transform="matrix(0.746 0 0 1 728.983 531.465)">NE<tspan dx="0.7" font-style="italic">/</tspan><tspan dx="0.7">NE</tspan></text>
<text x="720.45" y="548.595" class="dn">25</text>
<text class="da" transform="matrix(0.773 0 0 1 728.868 548.595)">PO<tspan dx="0.7" font-style="italic">/</tspan><tspan dx="0.7">PO</tspan></text>
<text x="720.45" y="565.725" class="dn">26</text>
<text class="da" transform="matrix(0.745 0 0 1 728.919 565.725)">ÚT<tspan dx="0.7" font-style="italic">/</tspan><tspan dx="0.7">UT</tspan></text>
<text x="720.45" y="582.855" class="dn">27</text>
<text class="da" transform="matrix(0.714 0 0 1 729.124 582.855)">ST<tspan dx="0.7" font-style="italic">/</tspan><tspan dx="0.7">ST</tspan></text>
<text x="720.45" y="599.985" class="dn">28</text>
<text class="da" transform="matrix(0.73 0 0 1 729.086 599.985)">ČT<tspan dx="0.7" font-style="italic">/</tspan><tspan dx="0.7">ŠT</tspan></text>
<text x="720.45" y="617.115" class="dn">29</text>
<text class="da" transform="matrix(0.773 0 0 1 728.868 617.115)">PÁ<tspan dx="0.7" font-style="italic">/</tspan><tspan dx="0.7">PIA</tspan></text>
<text x="720.45" y="634.245" class="dn">30</text>
<text class="da" transform="matrix(0.74 0 0 1 729.114 634.245)">SO<tspan dx="0.7" font-style="italic">/</tspan><tspan dx="0.7">SO</tspan></text>
<text x="720.45" y="651.375" class="dn s">31</text>
<text class="da s" transform="matrix(0.746 0 0 1 728.983 651.375)">NE<tspan dx="0.7" font-style="italic">/</tspan><tspan dx="0.7">NE</tspan></text>
<rect x="840.5" y="91" width="120.8" height="17.13" fill="#f2ebe6"/>
<rect x="840.5" y="228.04" width="120.8" height="17.13" fill="#f2ebe6"/>
<rect x="840.5" y="347.95" width="120.8" height="17.13" fill="#f2ebe6"/>
<rect x="840.5" y="467.86" width="120.8" height="17.13" fill="#f2ebe6"/>
<rect x="840.5" y="587.77" width="120.8" height="17.13" fill="#f2ebe6"/>
<path d="M840.5 91H961.3M840.5 125.26H961.3M840.5 142.39H961.3M840.5 159.52H961.3M840.5 176.65H961.3M840.5 193.78H961.3M840.5 210.91H961.3M840.5 228.04H961.3M840.5 245.17H961.3M840.5 262.3H961.3M840.5 279.43H961.3M840.5 296.56H961.3M840.5 313.69H961.3M840.5 330.82H961.3M840.5 347.95H961.3M840.5 365.08H961.3M840.5 382.21H961.3M840.5 399.34H961.3M840.5 416.47H961.3M840.5 433.6H961.3M840.5 450.73H961.3M840.5 467.86H961.3M840.5 484.99H961.3M840.5 502.12H961.3M840.5 519.25H961.3M840.5 536.38H961.3M840.5 553.51H961.3M840.5 570.64H961.3M840.5 587.77H961.3M840.5 604.9H961.3M840.5 622.03H961.3M840.5 639.16H961.3M840.5 656.29H961.3M840.5 91V656.29M961.3 91V656.29M857.65 125.26V656.29M892.45 125.26V656.29" stroke="#c2beb4" stroke-width="1" stroke-linecap="square" fill="none"/>
<text class="mh" letter-spacing="0.55" transform="matrix(0.69 0 0 1 881.479 102.015)">ČERVEN<tspan dx="0.3" font-style="italic">/</tspan><tspan dx="0.3">JÚN</tspan></text>
<text class="ms" letter-spacing="0.3" transform="matrix(0.679 0 -0.03 1 870.316 119.545)">June/Juni/Június/Июнь</text>
<text x="853.35" y="137.475" class="dn">1</text>
<text class="da" transform="matrix(0.773 0 0 1 861.768 137.475)">PO<tspan dx="0.7" font-style="italic">/</tspan><tspan dx="0.7">PO</tspan></text>
<text x="853.35" y="154.605" class="dn">2</text>
<text class="da" transform="matrix(0.745 0 0 1 861.819 154.605)">ÚT<tspan dx="0.7" font-style="italic">/</tspan><tspan dx="0.7">UT</tspan></text>
<text x="853.35" y="171.735" class="dn">3</text>
<text class="da" transform="matrix(0.714 0 0 1 862.024 171.735)">ST<tspan dx="0.7" font-style="italic">/</tspan><tspan dx="0.7">ST</tspan></text>
<text x="853.35" y="188.865" class="dn">4</text>
<text class="da" transform="matrix(0.73 0 0 1 861.986 188.865)">ČT<tspan dx="0.7" font-style="italic">/</tspan><tspan dx="0.7">ŠT</tspan></text>
<text x="853.35" y="205.995" class="dn">5</text>
<text class="da" transform="matrix(0.773 0 0 1 861.768 205.995)">PÁ<tspan dx="0.7" font-style="italic">/</tspan><tspan dx="0.7">PIA</tspan></text>
<text x="853.35" y="223.125" class="dn">6</text>
<text class="da" transform="matrix(0.74 0 0 1 862.014 223.125)">SO<tspan dx="0.7" font-style="italic">/</tspan><tspan dx="0.7">SO</tspan></text>
<text x="853.35" y="240.255" class="dn s">7</text>
<text class="da s" transform="matrix(0.746 0 0 1 861.883 240.255)">NE<tspan dx="0.7" font-style="italic">/</tspan><tspan dx="0.7">NE</tspan></text>
<text x="853.35" y="257.385" class="dn">8</text>
<text class="da" transform="matrix(0.773 0 0 1 861.768 257.385)">PO<tspan dx="0.7" font-style="italic">/</tspan><tspan dx="0.7">PO</tspan></text>
<text x="853.35" y="274.515" class="dn">9</text>
<text class="da" transform="matrix(0.745 0 0 1 861.819 274.515)">ÚT<tspan dx="0.7" font-style="italic">/</tspan><tspan dx="0.7">UT</tspan></text>
<text x="853.35" y="291.645" class="dn">10</text>
<text class="da" transform="matrix(0.714 0 0 1 862.024 291.645)">ST<tspan dx="0.7" font-style="italic">/</tspan><tspan dx="0.7">ST</tspan></text>
<text x="853.35" y="308.775" class="dn">11</text>
<text class="da" transform="matrix(0.73 0 0 1 861.986 308.775)">ČT<tspan dx="0.7" font-style="italic">/</tspan><tspan dx="0.7">ŠT</tspan></text>
<text x="853.35" y="325.905" class="dn">12</text>
<text class="da" transform="matrix(0.773 0 0 1 861.768 325.905)">PÁ<tspan dx="0.7" font-style="italic">/</tspan><tspan dx="0.7">PIA</tspan></text>
<text x="853.35" y="343.035" class="dn">13</text>
<text class="da" transform="matrix(0.74 0 0 1 862.014 343.035)">SO<tspan dx="0.7" font-style="italic">/</tspan><tspan dx="0.7">SO</tspan></text>
<text x="853.35" y="360.165" class="dn s">14</text>
<text class="da s" transform="matrix(0.746 0 0 1 861.883 360.165)">NE<tspan dx="0.7" font-style="italic">/</tspan><tspan dx="0.7">NE</tspan></text>
<text x="853.35" y="377.295" class="dn">15</text>
<text class="da" transform="matrix(0.773 0 0 1 861.768 377.295)">PO<tspan dx="0.7" font-style="italic">/</tspan><tspan dx="0.7">PO</tspan></text>
<text x="853.35" y="394.425" class="dn">16</text>
<text class="da" transform="matrix(0.745 0 0 1 861.819 394.425)">ÚT<tspan dx="0.7" font-style="italic">/</tspan><tspan dx="0.7">UT</tspan></text>
<text x="853.35" y="411.555" class="dn">17</text>
<text class="da" transform="matrix(0.714 0 0 1 862.024 411.555)">ST<tspan dx="0.7" font-style="italic">/</tspan><tspan dx="0.7">ST</tspan></text>
<text x="853.35" y="428.685" class="dn">18</text>
<text class="da" transform="matrix(0.73 0 0 1 861.986 428.685)">ČT<tspan dx="0.7" font-style="italic">/</tspan><tspan dx="0.7">ŠT</tspan></text>
<text x="853.35" y="445.815" class="dn">19</text>
<text class="da" transform="matrix(0.773 0 0 1 861.768 445.815)">PÁ<tspan dx="0.7" font-style="italic">/</tspan><tspan dx="0.7">PIA</tspan></text>
<text x="853.35" y="462.945" class="dn">20</text>
<text class="da" transform="matrix(0.74 0 0 1 862.014 462.945)">SO<tspan dx="0.7" font-style="italic">/</tspan><tspan dx="0.7">SO</tspan></text>
<text x="853.35" y="480.075" class="dn s">21</text>
<text class="da s" transform="matrix(0.746 0 0 1 861.883 480.075)">NE<tspan dx="0.7" font-style="italic">/</tspan><tspan dx="0.7">NE</tspan></text>
<text x="853.35" y="497.205" class="dn">22</text>
<text class="da" transform="matrix(0.773 0 0 1 861.768 497.205)">PO<tspan dx="0.7" font-style="italic">/</tspan><tspan dx="0.7">PO</tspan></text>
<text x="853.35" y="514.335" class="dn">23</text>
<text class="da" transform="matrix(0.745 0 0 1 861.819 514.335)">ÚT<tspan dx="0.7" font-style="italic">/</tspan><tspan dx="0.7">UT</tspan></text>
<text x="853.35" y="531.465" class="dn">24</text>
<text class="da" transform="matrix(0.714 0 0 1 862.024 531.465)">ST<tspan dx="0.7" font-style="italic">/</tspan><tspan dx="0.7">ST</tspan></text>
<text x="853.35" y="548.595" class="dn">25</text>
<text class="da" transform="matrix(0.73 0 0 1 861.986 548.595)">ČT<tspan dx="0.7" font-style="italic">/</tspan><tspan dx="0.7">ŠT</tspan></text>
<text x="853.35" y="565.725" class="dn">26</text>
<text class="da" transform="matrix(0.773 0 0 1 861.768 565.725)">PÁ<tspan dx="0.7" font-style="italic">/</tspan><tspan dx="0.7">PIA</tspan></text>
<text x="853.35" y="582.855" class="dn">27</text>
<text class="da" transform="matrix(0.74 0 0 1 862.014 582.855)">SO<tspan dx="0.7" font-style="italic">/</tspan><tspan dx="0.7">SO</tspan></text>
<text x="853.35" y="599.985" class="dn s">28</text>
<text class="da s" transform="matrix(0.746 0 0 1 861.883 599.985)">NE<tspan dx="0.7" font-style="italic">/</tspan><tspan dx="0.7">NE</tspan></text>
<text x="853.35" y="617.115" class="dn">29</text>
<text class="da" transform="matrix(0.773 0 0 1 861.768 617.115)">PO<tspan dx="0.7" font-style="italic">/</tspan><tspan dx="0.7">PO</tspan></text>
<text x="853.35" y="634.245" class="dn">30</text>
<text class="da" transform="matrix(0.745 0 0 1 861.819 634.245)">ÚT<tspan dx="0.7" font-style="italic">/</tspan><tspan dx="0.7">UT</tspan></text>
<g fill="#222"><circle cx="12.38" cy="667.83" r="1.3"/><circle cx="18.92" cy="668.75" r="1.3"/><circle cx="25.38" cy="670.42" r="1.3"/><circle cx="31.46" cy="673.08" r="1.3"/><circle cx="37.32" cy="676.58" r="1.3"/><circle cx="42.26" cy="680.91" r="1.3"/><circle cx="46.67" cy="686" r="1.3"/><circle cx="50.4" cy="691.56" r="1.3"/><circle cx="53.14" cy="697.57" r="1.3"/><circle cx="54.96" cy="703.95" r="1.3"/><circle cx="55.95" cy="710.57" r="1.3"/><circle cx="1011.52" cy="667.83" r="1.3"/><circle cx="1004.98" cy="668.75" r="1.3"/><circle cx="998.52" cy="670.42" r="1.3"/><circle cx="992.44" cy="673.08" r="1.3"/><circle cx="986.58" cy="676.58" r="1.3"/><circle cx="981.64" cy="680.91" r="1.3"/><circle cx="977.23" cy="686" r="1.3"/><circle cx="973.5" cy="691.56" r="1.3"/><circle cx="970.76" cy="697.57" r="1.3"/><circle cx="968.94" cy="703.95" r="1.3"/><circle cx="967.95" cy="710.57" r="1.3"/></g>
</svg>
</body></html>
